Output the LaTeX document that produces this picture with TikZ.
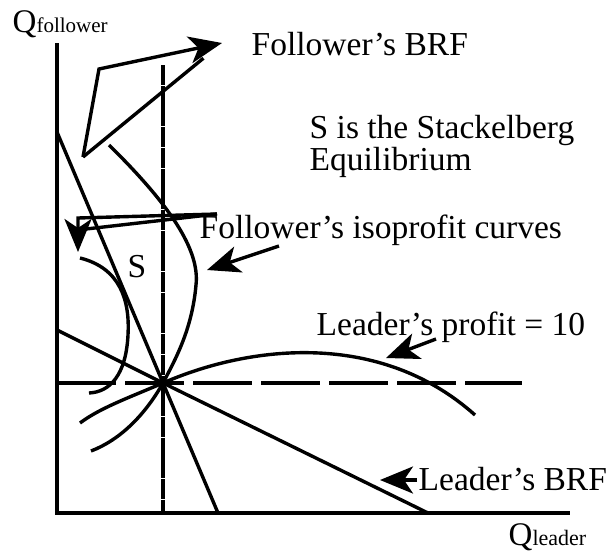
\documentclass[tikz,border=0pt]{standalone}
\usepackage{fontspec}
\setmainfont{Liberation Serif}
\usetikzlibrary{arrows.meta}

\begin{document}
\begin{tikzpicture}[x=1pt,y=-1pt,line width=3.4pt,
  lbl/.style={anchor=base west,inner sep=0pt,font=\fontsize{33.5}{28}\selectfont},
  pointer/.style={-{Stealth[length=33pt,width=27pt,inset=9pt]}},
  dashline/.style={dash pattern=on 59pt off 9pt}]
\useasboundingbox (0,0) rectangle (611,558);
% axes
\coordinate (origin) at (57,513);
\draw (57,43) -- (origin) -- (570,513);
\node[anchor=base west,inner sep=0pt] (qf) at (11,32) {\fontsize{33}{33}\selectfont Q\fontsize{21}{21}\selectfont follower};
\node[anchor=base west,inner sep=0pt] (ql) at (507,545) {\fontsize{33}{33}\selectfont Q\fontsize{22}{22}\selectfont leader};
% S and the dashed guides
\coordinate (S) at (163,383);
\draw[dash pattern=on 20pt off .7pt] (163,65) -- (163,513);
\draw[dashline] (57,383) -- (522,383);
% best response functions
\draw (57,132) -- (S) -- (218,513);
\draw (57,330) -- (S) -- (428,513);
% isoprofit curves
\draw (80,258) .. controls (120,268) and (130,300) .. (128,335) .. controls (126,375) and (110,392) .. (89,393);
\draw (109,145) .. controls (170,205) and (200,250) .. (196,285) .. controls (192,330) and (175,360) .. (S) .. controls (145,415) and (120,440) .. (91,451);
\draw (80,423) .. controls (100,408) and (128,398) .. (S) .. controls (250,345) and (380,330) .. (475,415);
% labels
\node[lbl] (fbrf) at (250,55) {Follower's BRF};
\node[lbl,align=left] (stack) at (308,170) {S is the Stackelberg\\Equilibrium};
\node[lbl] (iso) at (198,238) {Follower's isoprofit curves};
\node[lbl] (sname) at (126,277) {S};
\node[lbl] (lprofit) at (315,335) {Leader's profit = 10};
\node[lbl] (lbrf) at (417,490) {Leader's BRF};
% pointers
\coordinate (brftail) at (83,157);
\coordinate (brfkink) at (99,69);
\coordinate (brftip) at (222,43);
\draw[pointer] (brftail) -- (brfkink) -- (brftip);
\draw[shorten >=24pt] (brftail) -- (brftip);
\coordinate (isotail) at (217,214);
\coordinate (isokink) at (78,218);
\coordinate (isotip) at (78,252);
\draw[pointer] (isotail) -- (isokink) -- (isotip);
\draw (isotail) -- (86,229);
\coordinate (isotail2) at (279,246);
\coordinate (isotip2) at (207,270);
\draw[pointer] (isotail2) -- (isotip2);
\coordinate (proftail) at (436,339);
\coordinate (proftip) at (386,358);
\draw[pointer] (proftail) -- (proftip);
\coordinate (lbrftip) at (380,480);
\draw[pointer] (lbrf.west |- lbrftip) -- (lbrftip);
\end{tikzpicture}
\end{document}
